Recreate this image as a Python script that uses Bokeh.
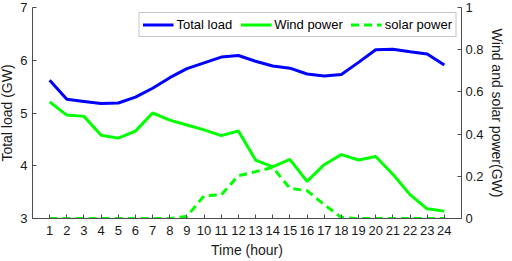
from bokeh.plotting import figure
from bokeh.models import (Range1d, LinearAxis, FixedTicker, CustomJSTickFormatter,
                          Legend, LegendItem, ColumnDataSource)
from bokeh.embed import file_html
from bokeh.resources import INLINE

# ---- data ----
hours = [1, 2, 3, 4, 5, 6, 7, 8, 9, 10, 11, 12, 13, 14, 15, 16, 17, 18, 19, 20, 21, 22, 23, 24]
total_load = [5.62, 5.26, 5.22, 5.18, 5.19, 5.30, 5.47, 5.67, 5.84, 5.95, 6.06, 6.09,
              5.98, 5.89, 5.85, 5.74, 5.70, 5.73, 5.96, 6.20, 6.21, 6.16, 6.12, 5.91]
wind_power = [0.553, 0.490, 0.484, 0.395, 0.381, 0.414, 0.500, 0.466, 0.443, 0.420, 0.393, 0.415,
              0.277, 0.245, 0.280, 0.176, 0.255, 0.303, 0.277, 0.294, 0.210, 0.113, 0.046, 0.035]
solar_power = [0.0, 0.0, 0.0, 0.0, 0.0, 0.0, 0.0, 0.0, 0.010, 0.108, 0.112, 0.203,
               0.222, 0.242, 0.143, 0.132, 0.066, 0.005, 0.0, 0.0, 0.0, 0.0, 0.0, 0.0]
x_ticks = hours
left_ticks = [3, 4, 5, 6, 7]
right_ticks = [0, 0.2, 0.4, 0.6, 0.8, 1.0]

FONT = "Liberation Sans"
AXIS_COLOR = "#4d4d4d"
TEXT_COLOR = "#1a1a1a"

src = ColumnDataSource(dict(h=hours, load=total_load, wind=wind_power, solar=solar_power))

p = figure(width=512, height=261, output_backend="svg", toolbar_location=None,
           x_range=Range1d(0, 25), y_range=Range1d(3, 7))
p.styles = {"margin-left": "-4px"}
p.min_border_left = 31
p.min_border_right = 47
p.min_border_top = 7
p.min_border_bottom = 43
p.outline_line_color = None
p.xgrid.visible = False
p.ygrid.visible = False
p.background_fill_color = "white"
p.border_fill_color = "white"

p.extra_y_ranges = {"r": Range1d(0, 1)}

def style_axis(ax):
    ax.axis_line_color = AXIS_COLOR
    ax.axis_line_width = 1
    ax.major_tick_line_color = AXIS_COLOR
    ax.major_tick_in = 4
    ax.major_tick_out = 0
    ax.minor_tick_line_color = None
    ax.major_label_text_font = FONT
    ax.major_label_text_font_size = "13px"
    ax.major_label_text_color = TEXT_COLOR
    ax.axis_label_text_font = FONT
    ax.axis_label_text_font_size = "14px"
    ax.axis_label_text_font_style = "normal"
    ax.axis_label_text_color = TEXT_COLOR

xa = p.xaxis[0]
xa.ticker = FixedTicker(ticks=x_ticks)
xa.axis_label = "Time (hour)"
style_axis(xa)
xa.major_label_standoff = 7
xa.axis_label_standoff = 4

ya = p.yaxis[0]
ya.ticker = FixedTicker(ticks=left_ticks)
ya.axis_label = "Total load (GW)"
style_axis(ya)
ya.major_label_standoff = 5
ya.axis_label_standoff = 2

ra = LinearAxis(y_range_name="r", axis_label="Wind and solar power(GW)")
ra.ticker = FixedTicker(ticks=right_ticks)
ra.formatter = CustomJSTickFormatter(code="return String(Math.round(tick*10)/10);")
style_axis(ra)
ra.major_label_standoff = 4
ra.axis_label_standoff = 2
p.add_layout(ra, "right")

r_load = p.line("h", "load", source=src, line_color="#0000ff", line_width=3)
r_wind = p.line("h", "wind", source=src, line_color="#00ff00", line_width=3, y_range_name="r")
r_solar = p.line("h", "solar", source=src, line_color="#00ff00", line_width=3,
                 line_dash="8 5", y_range_name="r")

legend = Legend(items=[LegendItem(label="Total load", renderers=[r_load]),
                       LegendItem(label="Wind power", renderers=[r_wind]),
                       LegendItem(label="solar power", renderers=[r_solar])],
                orientation="horizontal", location="top_right")
legend.margin = 5
legend.padding = 3
legend.spacing = 8
legend.glyph_width = 31
legend.glyph_height = 17
legend.label_height = 17
legend.label_standoff = 3
legend.label_text_font = FONT
legend.label_text_font_size = "13px"
legend.label_text_color = "#000000"
legend.border_line_color = "#8c8c8c"
legend.border_line_width = 1
legend.background_fill_color = "white"
legend.background_fill_alpha = 1
p.add_layout(legend, "center")

open("out.html", "w").write(file_html(p, INLINE))
